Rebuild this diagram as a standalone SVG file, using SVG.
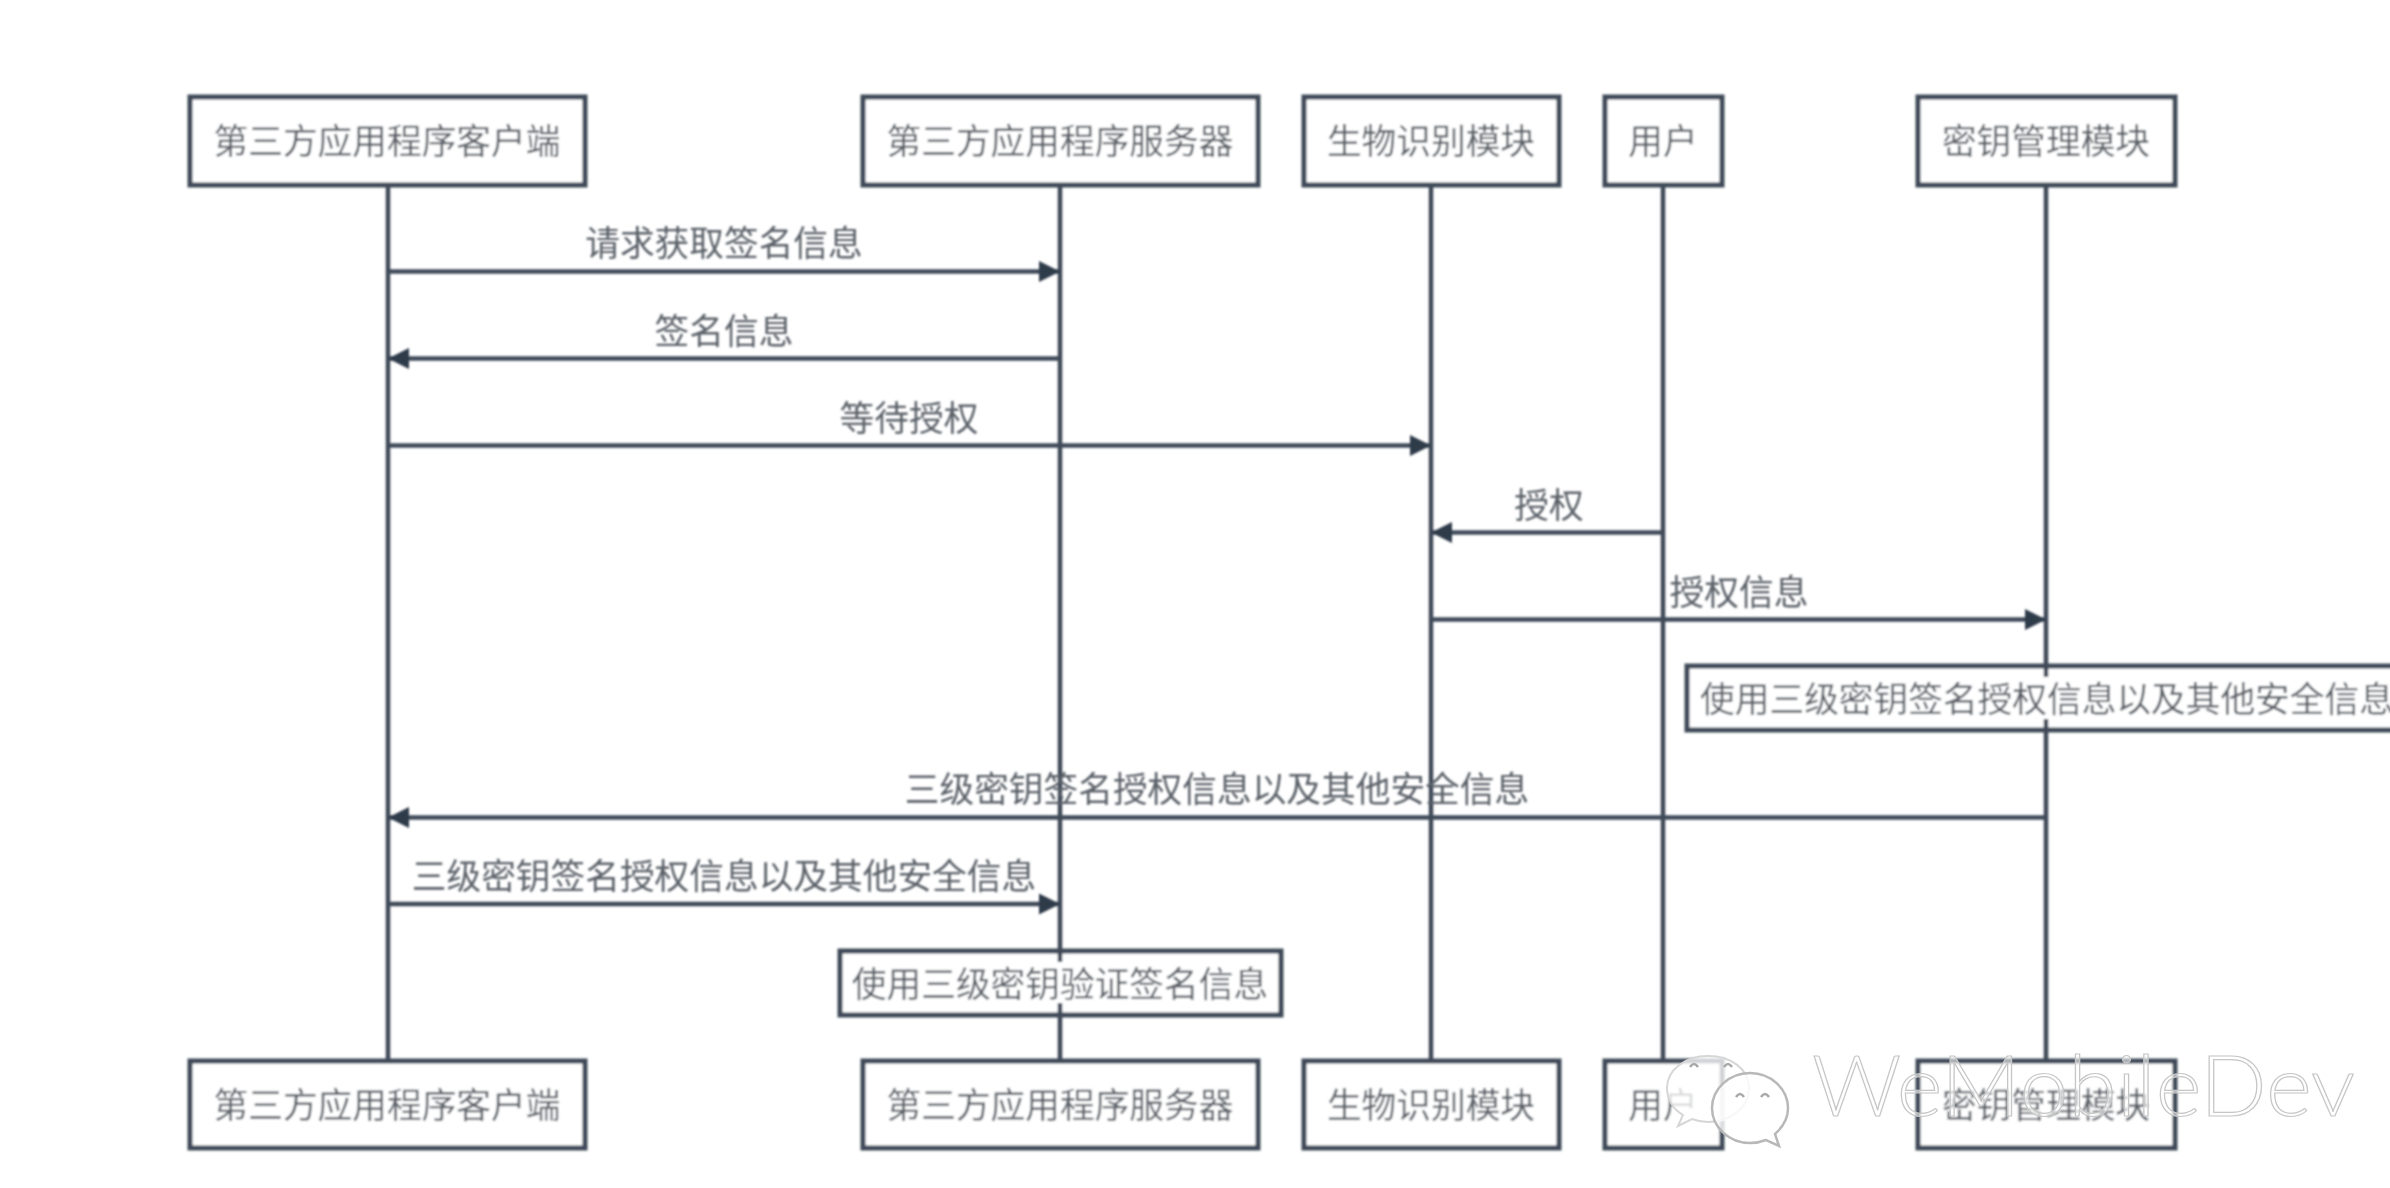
<svg xmlns="http://www.w3.org/2000/svg" width="2390" height="1188" viewBox="0 0 2390 1188">
<style>
.box{fill:#fff;stroke:#3f4a58;stroke-width:5}
.ll{stroke:#3f4a58;stroke-width:4.5;fill:none}
.msg{stroke:#3f4a58;stroke-width:4.5;fill:none;marker-end:url(#ah)}
text{font-family:"Noto Sans CJK SC","Liberation Sans",sans-serif;font-size:34.7px;fill:#5a6068;text-anchor:middle;dominant-baseline:central}
text.wm{font-family:"Lato","Liberation Sans",sans-serif;font-size:84px;font-weight:300;fill:#fff;fill-opacity:.55;stroke:#c6c6c6;stroke-width:1.2;text-anchor:start;dominant-baseline:auto}
.ic{fill:#fff;fill-opacity:.8;stroke:#b8b8b8;stroke-width:2.5}
.ic2{fill:#fff;fill-opacity:.75;stroke:#d6d6d6;stroke-width:2}
.soft{filter:url(#b)}
</style>
<defs>
<marker id="ah" markerUnits="userSpaceOnUse" markerWidth="24" markerHeight="24" refX="21" refY="12" orient="auto"><path d="M0 1.5L21 12L0 22.5Z" fill="#2f3b4a"/></marker>
<filter id="b" x="-2%" y="-2%" width="104%" height="104%"><feGaussianBlur stdDeviation="0.9"/></filter>
</defs>
<rect width="2390" height="1188" fill="#fff"/>
<g class="soft">
<g id="connectors">
<path class="ll" d="M388 185V1061M1060 185V1061M1431 185V1061M1663 185V1061M2046 185V1061"/>
<path class="msg" d="M388 271.500H1060"/>
<path class="msg" d="M1060 358.500H388"/>
<path class="msg" d="M388 445.500H1431"/>
<path class="msg" d="M1663 532.500H1431"/>
<path class="msg" d="M1431 619.500H2046"/>
<path class="msg" d="M2046 817.500H388"/>
<path class="msg" d="M388 904H1060"/>
<text x="724" y="241">请求获取签名信息</text>
<text x="724" y="329">签名信息</text>
<text x="909" y="416">等待授权</text>
<text x="1549" y="503">授权</text>
<text x="1739" y="590">授权信息</text>
<text x="1217" y="787">三级密钥签名授权信息以及其他安全信息</text>
<text x="724" y="874">三级密钥签名授权信息以及其他安全信息</text>
</g>
<g id="note-sign"><rect class="box" x="1687" y="666" width="730" height="64"/><path class="ll" d="M2046 668V677M2046 719V730"/><text x="2047" y="697">使用三级密钥签名授权信息以及其他安全信息</text></g>
<g id="note-verify"><rect class="box" x="840" y="951" width="441" height="64"/><path class="ll" d="M1060 951V962M1060 1003V1015"/><text x="1060" y="982">使用三级密钥验证签名信息</text></g>
<g id="a-top"><rect class="box" x="190" y="97" width="395" height="88"/><text x="387" y="139">第三方应用程序客户端</text></g>
<g id="b-top"><rect class="box" x="863" y="97" width="395" height="88"/><text x="1060" y="139">第三方应用程序服务器</text></g>
<g id="c-top"><rect class="box" x="1304" y="97" width="255" height="88"/><text x="1431" y="139">生物识别模块</text></g>
<g id="d-top"><rect class="box" x="1605" y="97" width="117" height="88"/><text x="1663" y="139">用户</text></g>
<g id="e-top"><rect class="box" x="1918" y="97" width="257" height="88"/><text x="2046" y="139">密钥管理模块</text></g>
<g id="a-bot"><rect class="box" x="190" y="1061" width="395" height="87"/><text x="387" y="1103">第三方应用程序客户端</text></g>
<g id="b-bot"><rect class="box" x="863" y="1061" width="395" height="87"/><text x="1060" y="1103">第三方应用程序服务器</text></g>
<g id="c-bot"><rect class="box" x="1304" y="1061" width="255" height="87"/><text x="1431" y="1103">生物识别模块</text></g>
<g id="d-bot"><rect class="box" x="1605" y="1061" width="117" height="87"/><text x="1663" y="1103">用户</text></g>
<g id="e-bot"><rect class="box" x="1918" y="1061" width="257" height="87"/><text x="2046" y="1103">密钥管理模块</text></g>
</g>
<g id="watermark">
<path class="ic2" d="M1708 1056c-23 0-41 14-41 32 0 11 6 21 16 27l-5 11 14-7c5 2 10 3 16 3 23 0 41-15 41-34s-18-32-41-32z"/>
<path class="ic" d="M1750 1073c-21 0-38 16-38 35s17 35 38 35c6 0 11-1 16-3l13 6-4-12c8-7 13-16 13-26 0-19-17-35-38-35z"/>
<path d="M1690 1067q4-6 8 0M1724 1067q4-6 8 0M1736 1097q4-6 8 0M1761 1097q4-6 8 0" fill="none" stroke="#a8a8a8" stroke-width="2.5"/>
<text class="wm" x="1812" y="1116" textLength="543" lengthAdjust="spacingAndGlyphs">WeMobileDev</text>
</g>
</svg>
